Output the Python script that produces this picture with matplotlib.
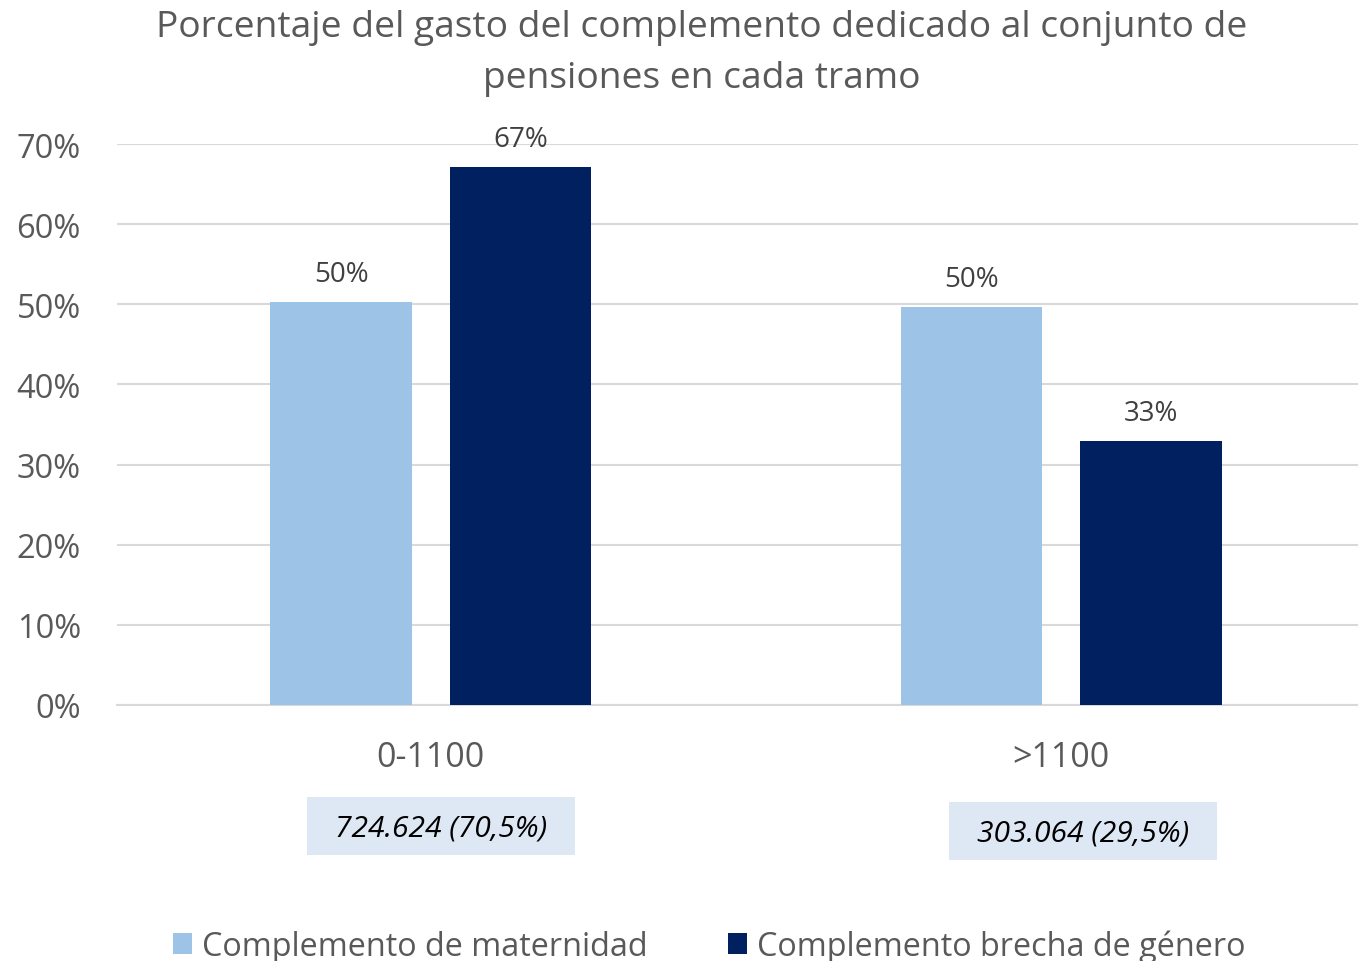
import numpy as np
import matplotlib.pyplot as plt
from matplotlib.patches import Rectangle

categories = ['0-1100', '>1100']
series_names = ['Complemento de maternidad', 'Complemento brecha de género']
maternidad = [0.503, 0.497]
brecha = [0.671, 0.329]
label_mat = ['50%', '50%']
label_bre = ['67%', '33%']
notes = ['724.624 (70,5%)', '303.064 (29,5%)']

plt.rcParams['font.family'] = ['Open Sans', 'DejaVu Sans']

W, H = 1358, 962
fig = plt.figure(figsize=(W / 100, H / 100), dpi=100)

def fx(px):
    return px / W

def fy(py):
    return 1 - py / H

ax = fig.add_axes([fx(117), fy(706), fx(1358) - fx(117), fy(145) - fy(706)])

light = '#9DC3E6'
dark = '#002060'
grey = '#595959'

x = np.arange(len(categories))
w = 0.224
off = 0.1425
b1 = ax.bar(x - off, maternidad, w, color=light, zorder=3)
b2 = ax.bar(x + off, brecha, w, color=dark, zorder=3)

for bars, labs in [(b1, label_mat), (b2, label_bre)]:
    for r, t in zip(bars, labs):
        ax.annotate(t, (r.get_x() + r.get_width() / 2, r.get_height()),
                    xytext=(0, 10), textcoords='offset points',
                    ha='center', va='bottom', fontsize=20, color='#404040')

ax.set_xlim(-0.498, 1.471)
ax.set_ylim(0, 0.7)
ax.set_yticks(np.arange(0, 0.71, 0.1))
ax.set_yticklabels([f'{int(round(v * 100))}%' for v in np.arange(0, 0.71, 0.1)],
                   fontsize=23.5, color=grey)
ax.set_xticks(x)
ax.set_xticklabels(categories, fontsize=24.5, color=grey)
ax.tick_params(axis='both', length=0)
ax.tick_params(axis='x', pad=25)
ax.tick_params(axis='y', pad=26)
ax.grid(axis='y', color='#D9D9D9', linewidth=1.5, zorder=0)
for s in ['top', 'right', 'left']:
    ax.spines[s].set_visible(False)
ax.spines['bottom'].set_color('#D9D9D9')
ax.spines['bottom'].set_linewidth(1.5)

fig.text(fx(702), fy(28), 'Porcentaje del gasto del complemento dedicado al conjunto de',
         ha='center', va='center', fontsize=26.7, color=grey)
fig.text(fx(702), fy(79), 'pensiones en cada tramo',
         ha='center', va='center', fontsize=26.7, color=grey)

# note boxes under the categories
boxes = [(307, 798, 575, 856), (949, 803, 1217, 861)]
for (x0, y0, x1, y1), t in zip(boxes, notes):
    fig.patches.append(Rectangle((fx(x0), fy(y1)), fx(x1) - fx(x0), fy(y0) - fy(y1),
                                 transform=fig.transFigure, facecolor='#DEE8F4',
                                 edgecolor='none'))
    fig.text(fx((x0 + x1) / 2), fy((y0 + y1) / 2 + 2), t, ha='center', va='center',
             fontsize=21.6, style='italic', color='black')

leg = fig.legend([b1, b2], series_names, loc='center', bbox_to_anchor=(fx(709), fy(947)),
                 ncol=2, frameon=False, fontsize=23.3, handlelength=0.59, handleheight=0.59,
                 handletextpad=0.31, columnspacing=2.47)
for t in leg.get_texts():
    t.set_color(grey)

fig.savefig('out.png', dpi=100)
